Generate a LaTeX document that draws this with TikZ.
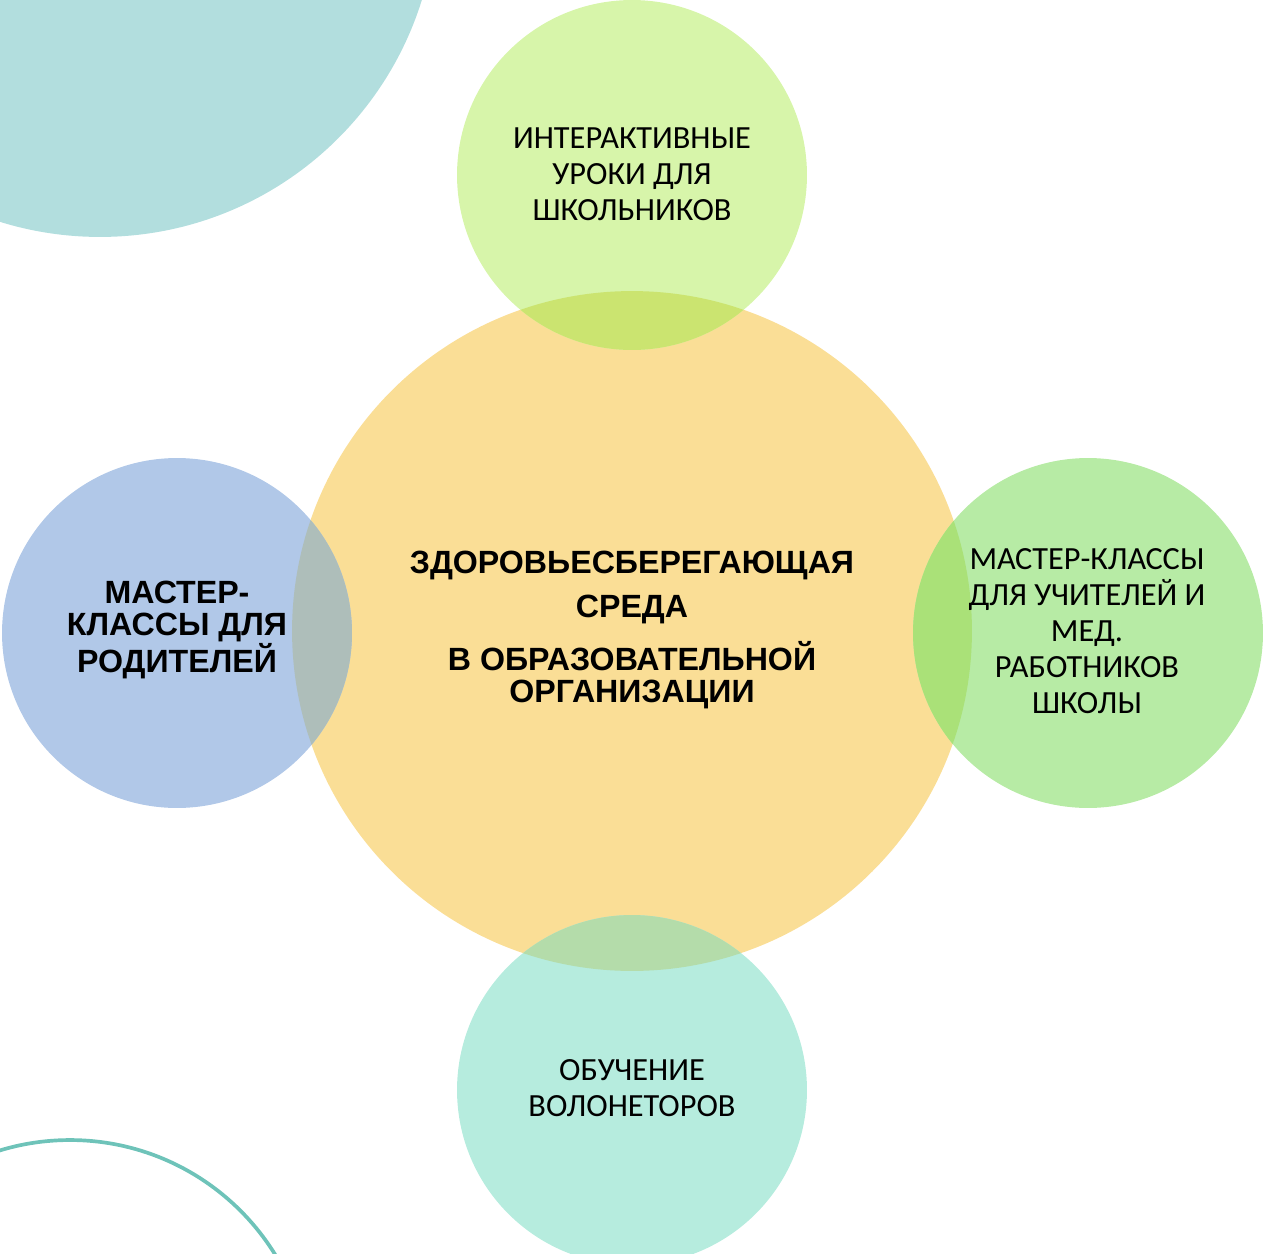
\documentclass[tikz,border=0pt]{standalone}
\usepackage{fontspec}
\setmainfont{Carlito}
\newfontfamily\arialfont{Liberation Sans}
\usepackage{tikz}

\definecolor{tealbg}{RGB}{178,222,222}
\definecolor{tealline}{RGB}{110,195,185}
\definecolor{midorange}{RGB}{250,222,150}
\definecolor{topgreen}{RGB}{215,245,170}
\definecolor{leftblue}{RGB}{177,200,232}
\definecolor{rightgreen}{RGB}{183,235,165}
\definecolor{botteal}{RGB}{182,236,222}
\definecolor{lenstop}{RGB}{203,228,112}
\definecolor{lensleft}{RGB}{174,190,186}
\definecolor{lensright}{RGB}{170,225,120}
\definecolor{lensbot}{RGB}{180,220,170}

\begin{document}
\begin{tikzpicture}[x=0.02cm, y=-0.02cm,
  bubble/.style={circle, inner sep=0pt, minimum size=7cm, align=center},
  smalltext/.style={font=\fontsize{18.4}{20.5}\selectfont},
  boldtext/.style={font=\arialfont\bfseries\fontsize{18.3}{18.5}\selectfont}]

 \useasboundingbox (0,0) rectangle (1265,1254);
 \clip (0,0) rectangle (1265,1254);

 % background shapes
 \fill[tealbg] (100,-100) circle[radius=6.74cm];
 \draw[tealline, line width=2.1pt] (70,1381) circle[radius=4.82cm];

 % circles
 \node[bubble, fill=midorange, minimum size=13.6cm] (mid) at (632,631) {};
 \node[bubble, fill=topgreen] (top) at (632,175) {};
 \node[bubble, fill=leftblue] (left) at (177,633) {};
 \node[bubble, fill=rightgreen] (right) at (1088,633) {};
 \node[bubble, fill=botteal] (bot) at (632,1090) {};

 % overlaps
 \begin{scope}
  \clip (mid.center) circle[radius=6.8cm];
  \fill[lenstop] (top.center) circle[radius=3.5cm];
  \fill[lensleft] (left.center) circle[radius=3.5cm];
  \fill[lensright] (right.center) circle[radius=3.5cm];
  \fill[lensbot] (bot.center) circle[radius=3.5cm];
 \end{scope}

 % labels
 \node[boldtext, align=center] (midtext) at (632,630) {ЗДОРОВЬЕСБЕРЕГАЮЩАЯ\\[0.24cm]СРЕДА\\[0.3cm]В ОБРАЗОВАТЕЛЬНОЙ\\ОРГАНИЗАЦИИ};
 \node[boldtext, align=center] (lefttext) at (177,630) {МАСТЕР-\\КЛАССЫ ДЛЯ\\РОДИТЕЛЕЙ};
 \node[smalltext, align=center] (toptext) at (632,174) {ИНТЕРАКТИВНЫЕ\\УРОКИ ДЛЯ\\ШКОЛЬНИКОВ};
 \node[smalltext, align=center] (righttext) at (1087,631) {МАСТЕР-КЛАССЫ\\ДЛЯ УЧИТЕЛЕЙ И\\МЕД.\\РАБОТНИКОВ\\ШКОЛЫ};
 \node[smalltext, align=center] (bottext) at (632,1088) {ОБУЧЕНИЕ\\ВОЛОНЕТОРОВ};

\end{tikzpicture}
\end{document}
